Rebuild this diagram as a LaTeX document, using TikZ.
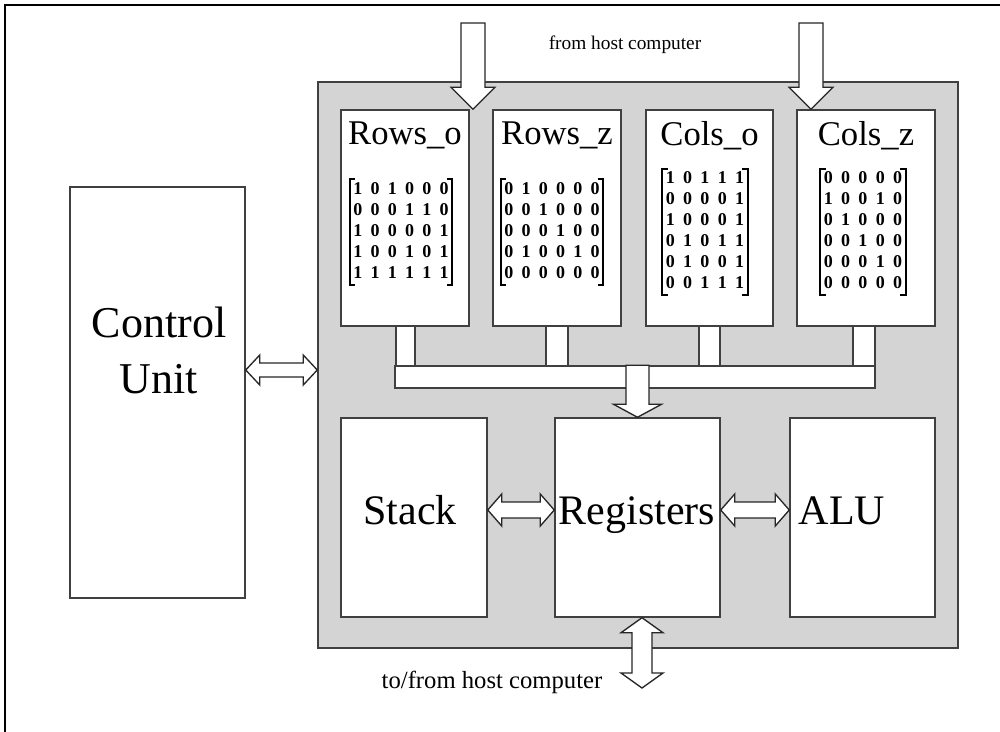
\documentclass[tikz,border=0pt]{standalone}
\usepackage{fontspec}
\setmainfont{Liberation Serif}
\usetikzlibrary{fit,calc}
% block arrow pointing down: tail #1, tip #2, shaft half-width #3, head half-width #4, head length #5
\newcommand\downblock[5]{\draw[blkline] ($(#1)+(-#3,0)$) -- ($(#2)+(-#3,-#5)$) -- ($(#2)+(-#4,-#5)$) -- (#2)
  -- ($(#2)+(#4,-#5)$) -- ($(#2)+(#3,-#5)$) -- ($(#1)+(#3,0)$) -- cycle;}
% horizontal double block arrow: left tip #1, right tip #2
\newcommand\hdoubleblock[5]{\draw[blkline] (#1) -- ($(#1)+(#5,-#4)$) -- ($(#1)+(#5,-#3)$) -- ($(#2)+(-#5,-#3)$)
  -- ($(#2)+(-#5,-#4)$) -- (#2) -- ($(#2)+(-#5,#4)$) -- ($(#2)+(-#5,#3)$) -- ($(#1)+(#5,#3)$) -- ($(#1)+(#5,#4)$) -- cycle;}
% vertical double block arrow: top tip #1, bottom tip #2
\newcommand\vdoubleblock[5]{\draw[blkline] (#1) -- ($(#1)+(#4,#5)$) -- ($(#1)+(#3,#5)$) -- ($(#2)+(#3,-#5)$)
  -- ($(#2)+(#4,-#5)$) -- (#2) -- ($(#2)+(-#4,-#5)$) -- ($(#2)+(-#3,-#5)$) -- ($(#1)+(-#3,#5)$) -- ($(#1)+(-#4,#5)$) -- cycle;}
\begin{document}
\begin{tikzpicture}[x=0.75pt,y=-0.75pt,
  frameline/.style={line width=1.5pt, black},
  panel/.style={draw=black!75, fill=black!17, line width=1.1pt, inner sep=0pt},
  box/.style={draw=black!75, fill=white, line width=1.1pt, inner sep=0pt},
  title/.style={font=\fontsize{26pt}{30pt}\selectfont, inner sep=0pt},
  bigtext/.style={font=\fontsize{31.5pt}{38pt}\selectfont, inner sep=0pt, anchor=base},
  mat/.style={inner xsep=2.5pt, inner ysep=0pt,
    font=\fontsize{13.5pt}{15.75pt}\selectfont\bfseries},
  bracket/.style={line width=1.4pt, black},
  blkline/.style={draw=black!85, fill=white, line width=1pt, line join=miter},
  hosttext/.style={inner sep=0pt}]
\useasboundingbox (0,0) rectangle (1000,732);
\draw[frameline] (5,732) -- (5,5) -- (1000,5);

% processing unit
\node[panel, fit={(318,82) (958,648)}] (panel) {};

% control unit
\node[box, fit={(70,187) (245,598)}] (cu) {};
\node[font=\fontsize{33pt}{42pt}\selectfont, align=center, inner sep=0pt] (cutext) at (159,350) {Control\\Unit};

% input memories
\node[box, fit={(341,110) (469,326)}] (rowso) {};
\node[box, fit={(493,110) (621,326)}] (rowsz) {};
\node[box, fit={(646,110) (773,326)}] (colso) {};
\node[box, fit={(797,110) (935,326)}] (colsz) {};
\node[title, anchor=north] (trowso) at ([yshift=-9pt]rowso.north) {Rows\_o};
\node[title, anchor=north] (trowsz) at ([yshift=-9pt]rowsz.north) {Rows\_z};
\node[title, anchor=north] (tcolso) at ([yshift=-9pt]colso.north) {Cols\_o};
\node[title, anchor=north] (tcolsz) at ([yshift=-9pt]colsz.north) {Cols\_z};

% matrices
\def\matcols#1{\begin{tabular}{@{}*{#1}{c}@{}}}
\setlength{\tabcolsep}{3.1pt}
\node[mat] (mrowso) at (401,232) {\matcols{6}
1&0&1&0&0&0\\ 0&0&0&1&1&0\\ 1&0&0&0&0&1\\ 1&0&0&1&0&1\\ 1&1&1&1&1&1\end{tabular}};
\node[mat] (mrowsz) at (552,232) {\matcols{6}
0&1&0&0&0&0\\ 0&0&1&0&0&0\\ 0&0&0&1&0&0\\ 0&1&0&0&1&0\\ 0&0&0&0&0&0\end{tabular}};
\node[mat] (mcolso) at (705,232) {\matcols{5}
1&0&1&1&1\\ 0&0&0&0&1\\ 1&0&0&0&1\\ 0&1&0&1&1\\ 0&1&0&0&1\\ 0&0&1&1&1\end{tabular}};
\node[mat] (mcolsz) at (863,232) {\matcols{5}
0&0&0&0&0\\ 1&0&0&1&0\\ 0&1&0&0&0\\ 0&0&1&0&0\\ 0&0&0&1&0\\ 0&0&0&0&0\end{tabular}};
\foreach \m in {mrowso,mrowsz,mcolso,mcolsz}{
  \draw[bracket] ([xshift=4pt]\m.north west) -- (\m.north west) -- (\m.south west) -- ([xshift=4pt]\m.south west);
  \draw[bracket] ([xshift=-4pt]\m.north east) -- (\m.north east) -- (\m.south east) -- ([xshift=-4pt]\m.south east);
}

% bus from the memories
\node[box, fit={(396,326) (415,366)}] (srowso) {};
\node[box, fit={(546,326) (568,366)}] (srowsz) {};
\node[box, fit={(699,326) (720,366)}] (scolso) {};
\node[box, fit={(853,326) (875,366)}] (scolsz) {};
\node[box, fit={(395,366) (875,388)}] (bus) {};

% lower units
\node[box, fit={(341,418) (487,617)}] (stack) {};
\node[box, fit={(555,418) (720,617)}] (regs) {};
\node[box, fit={(790,418) (935,617)}] (alu) {};
\node[bigtext] (tstack) at (410,524) {Stack};
\node[bigtext] (tregs) at (637,524) {Registers};
\node[bigtext] (talu) at (842,524) {ALU};

% host inputs
\coordinate (hostL) at (473,23);
\coordinate (hostR) at (811,23);
\coordinate (tipL) at (hostL |- rowso.north);
\coordinate (tipR) at (hostR |- colsz.north);
\node[hosttext, font=\fontsize{14.5pt}{17pt}\selectfont] (fromhost) at (625,45) {from host computer};
\downblock{hostL}{tipL}{12}{22}{22}
\downblock{hostR}{tipR}{12}{22}{22}

% bus to registers
\coordinate (busout) at (regs.north |- bus.north);
\downblock{busout}{regs.north}{11.5}{24}{13}

% bidirectional links
\coordinate (cuL) at (cu.east |- 0,370);
\coordinate (cuR) at (panel.west |- 0,370);
\hdoubleblock{cuL}{cuR}{7}{15}{14}
\coordinate (stR) at (stack.east |- 0,510);
\coordinate (rgL) at (regs.west |- 0,510);
\hdoubleblock{stR}{rgL}{8}{16}{14}
\coordinate (rgR) at (regs.east |- 0,510);
\coordinate (alL) at (alu.west |- 0,510);
\hdoubleblock{rgR}{alL}{8}{16}{14}
\coordinate (hostB) at (642,688);
\coordinate (rgB) at (hostB |- regs.south);
\vdoubleblock{rgB}{hostB}{10}{21}{15}
\node[hosttext, font=\fontsize{18.5pt}{22pt}\selectfont] (tohost) at (492,682) {to/from host computer};
\end{tikzpicture}
\end{document}
